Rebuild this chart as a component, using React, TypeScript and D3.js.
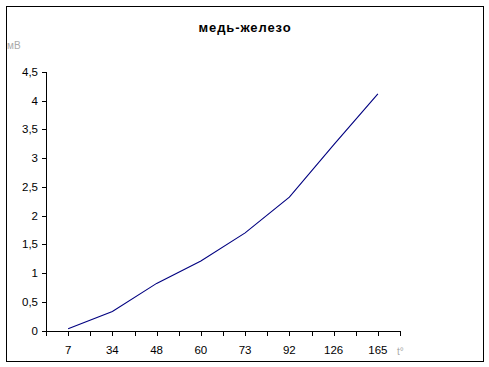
import React, { useEffect, useRef } from "react";
import * as d3 from "d3";

const title = "медь-железо";
const categories = ["7", "34", "48", "60", "73", "92", "126", "165"];
const values = [0.03, 0.33, 0.82, 1.21, 1.7, 2.32, 3.23, 4.12];
const yTicks = [0, 0.5, 1, 1.5, 2, 2.5, 3, 3.5, 4, 4.5];
const yAxisTitle = "мВ";
const xAxisTitle = "t°";

export default function App() {
  const ref = useRef<SVGSVGElement | null>(null);

  useEffect(() => {
    const svg = d3.select(ref.current);
    svg.selectAll("*").remove();
    const W = 489, H = 367;
    const left = 46, right = 400, top = 72, bottom = 330.5;

    svg.append("rect").attr("x", 0).attr("y", 0).attr("width", W).attr("height", H).attr("fill", "#fff");
    svg.append("rect").attr("x", 6.5).attr("y", 6.5).attr("width", 477).attr("height", 355)
      .attr("fill", "none").attr("stroke", "#000").attr("stroke-width", 1);

    const x = d3.scaleBand().domain(categories).range([left, right]).paddingInner(0).paddingOuter(0);
    const y = d3.scaleLinear().domain([0, 4.5]).range([bottom, top]);

    const font = "Liberation Sans, Arial, sans-serif";

    svg.append("text").attr("x", 245).attr("y", 32).attr("text-anchor", "middle")
      .attr("font-family", font).attr("font-size", 13).attr("font-weight", "bold")
      .attr("letter-spacing", 0.9).attr("fill", "#000").text(title);

    // y axis
    const g = svg.append("g").attr("shape-rendering", "crispEdges");
    g.append("line").attr("x1", left + 0.5).attr("x2", left + 0.5).attr("y1", y(4.5)).attr("y2", bottom)
      .attr("stroke", "#000");
    yTicks.forEach((t) => {
      const yy = Math.round(y(t)) + 0.5;
      g.append("line").attr("x1", left - 4).attr("x2", left).attr("y1", yy).attr("y2", yy).attr("stroke", "#000");
      svg.append("text").attr("x", 38).attr("y", y(t) + 4).attr("text-anchor", "end")
        .attr("font-family", font).attr("font-size", 11.5).attr("fill", "#000")
        .text(d3.format("")(t).replace(".", ","));
    });

    // x axis
    const by = Math.round(bottom) + 0.5;
    g.append("line").attr("x1", left).attr("x2", right + 1).attr("y1", by).attr("y2", by).attr("stroke", "#000");
    const bw = x.bandwidth();
    const tickPos: number[] = [];
    categories.forEach((c) => {
      tickPos.push(x(c)!);
      tickPos.push(x(c)! + bw / 2);
    });
    tickPos.push(right);
    tickPos.forEach((p) => {
      const px = Math.round(p) + 0.5;
      g.append("line").attr("x1", px).attr("x2", px).attr("y1", by).attr("y2", by + 4).attr("stroke", "#000");
    });
    categories.forEach((c) => {
      svg.append("text").attr("x", x(c)! + bw / 2).attr("y", 354).attr("text-anchor", "middle")
        .attr("font-family", font).attr("font-size", 11.5).attr("fill", "#000").text(c);
    });

    // axis titles (rendered faint as in reference)
    svg.append("text").attr("x", 7).attr("y", 49).attr("font-family", font).attr("font-size", 10)
      .attr("fill", "#aaa").text(yAxisTitle);
    svg.append("text").attr("x", 397).attr("y", 355).attr("font-family", font).attr("font-size", 10)
      .attr("fill", "#aaa").text(xAxisTitle);

    // line
    const line = d3.line<number>()
      .x((_, i) => x(categories[i])! + bw / 2)
      .y((d) => y(d));
    svg.append("path").datum(values).attr("d", line).attr("fill", "none")
      .attr("stroke", "#000080").attr("stroke-width", 1.1);
  }, []);

  return (
    <svg ref={ref} width={489} height={367}
      style={{ position: "absolute", left: 0, top: 0, display: "block" }} />
  );
}
